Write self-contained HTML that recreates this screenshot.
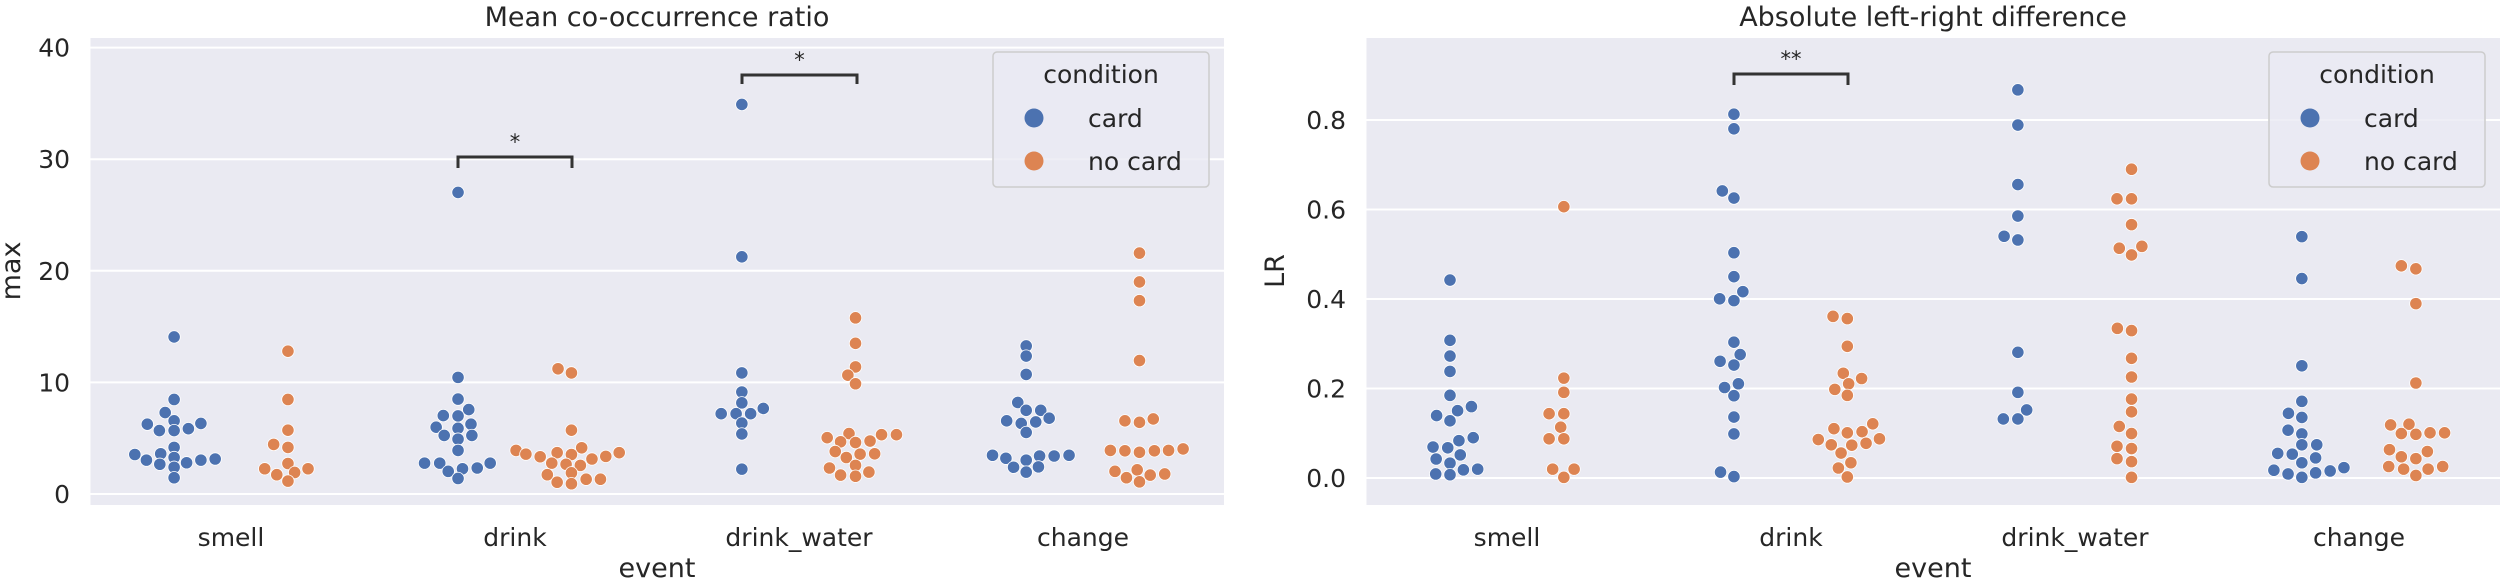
<!DOCTYPE html>
<html><head><meta charset="utf-8"><style>
html,body{margin:0;padding:0;background:#fff;}
svg{display:block;font-family:"DejaVu Sans","Liberation Sans",sans-serif;}
</style></head><body>
<svg id="s" width="2500" height="587" viewBox="0 0 2500 587" xmlns="http://www.w3.org/2000/svg">
<rect x="90.5" y="38" width="1133.5" height="467" fill="#eaeaf2"/>
<rect x="1366.5" y="38" width="1133.5" height="467" fill="#eaeaf2"/>
<g id="grid" stroke="#fff" stroke-width="2"></g>
<g id="pts"></g>
<g fill="#262626" font-size="26">
<text x="657" y="26" text-anchor="middle" font-size="27">Mean co-occurrence ratio</text>
<text x="1933" y="26" text-anchor="middle" font-size="27">Absolute left-right difference</text>
<text x="657" y="577" text-anchor="middle" font-size="27">event</text>
<text x="1933" y="577" text-anchor="middle" font-size="27">event</text>
<text transform="translate(20,271) rotate(-90)" text-anchor="middle" font-size="27">max</text>
<text transform="translate(1284,271) rotate(-90)" text-anchor="middle" font-size="27">LR</text>
</g>
<g id="lab" fill="#262626" font-size="25"></g>
</svg>
<script>
const NS="http://www.w3.org/2000/svg";
function el(p,t,a,txt){const e=document.createElementNS(NS,t);for(const k in a)e.setAttribute(k,a[k]);if(txt!==undefined)e.textContent=txt;p.appendChild(e);return e;}
const grid=document.getElementById('grid'),pts=document.getElementById('pts'),lab=document.getElementById('lab');
// left y
for(let v=0;v<=40;v+=10){const y=494-11.16*v;el(grid,'line',{x1:90.5,x2:1224,y1:y,y2:y});el(lab,'text',{x:70,y:y+9,'text-anchor':'end'},String(v));}
for(let i=0;i<=4;i++){const v=i*0.2;const y=478-447.5*v;el(grid,'line',{x1:1366.5,x2:2500,y1:y,y2:y});el(lab,'text',{x:1346,y:y+9,'text-anchor':'end'},v.toFixed(1));}
const cats=["smell","drink","drink_water","change"];
cats.forEach((c,i)=>{el(lab,'text',{x:231+284*i,y:546,'text-anchor':'middle'},c);el(lab,'text',{x:1507+284*i,y:546,'text-anchor':'middle'},c);});
const B="#4c72b0",O="#dd8452";
function add(ox,fx,arr,col){for(const [zx,zy] of arr){el(pts,'circle',{cx:ox+zx/fx,cy:zy/2.671,r:6.2,fill:col,stroke:'#fff','stroke-width':0.8});}}
const f1=2.24,f3=2.613;
add(0,f1,[[390,900],[390,1067],[370,1102],[390,1124],[330,1133],[357,1150],[390,1150],[422,1145],[450,1131],[390,1195],[302,1214],[360,1212],[328,1229],[390,1222],[418,1236],[450,1229],[482,1226],[358,1240],[390,1248],[390,1276]],B);
add(0,f1,[[645,938],[645,1067],[645,1149],[613,1187],[645,1195],[645,1238],[593,1252],[620,1268],[660,1262],[690,1252],[645,1285]],O);
add(0,f1,[[1026,514],[1026,1008],[1026,1066],[1050,1094],[993,1110],[1026,1111],[1055,1133],[977,1141],[1026,1144],[995,1163],[1057,1163],[1026,1173],[1026,1203],[951,1237],[985,1237],[1098,1237],[1036,1252],[1069,1250],[1004,1259],[1026,1278]],B);
add(0,f1,[[1250,985],[1280,996],[1280,1149],[1303,1196],[1156,1203],[1178,1213],[1210,1220],[1248,1209],[1280,1214],[1326,1226],[1357,1219],[1387,1209],[1236,1237],[1268,1240],[1300,1243],[1226,1268],[1280,1263],[1248,1288],[1280,1292],[1313,1280],[1345,1280]],O);
add(650,f3,[[240,279],[240,686],[240,996],[240,1047],[240,1076],[296,1091],[186,1105],[225,1105],[263,1105],[240,1130],[240,1159],[240,1253]],B);
add(650,f3,[[537,849],[537,917],[537,980],[517,1002],[537,1025],[520,1158],[605,1161],[644,1161],[463,1169],[498,1180],[537,1182],[575,1178],[484,1206],[549,1213],[587,1212],[513,1222],[537,1243],[469,1250],[572,1261],[498,1269],[537,1272]],O);
add(650,f3,[[983,924],[983,951],[983,1000],[961,1075],[983,1096],[1021,1096],[932,1124],[970,1131],[1008,1127],[1043,1117],[983,1155],[895,1216],[930,1224],[1018,1218],[1056,1218],[1095,1216],[983,1229],[950,1248],[1015,1247],[983,1261]],B);
add(650,f3,[[1279,676],[1279,753],[1279,803],[1279,963],[1241,1124],[1279,1128],[1315,1119],[1203,1203],[1241,1204],[1279,1208],[1318,1204],[1355,1203],[1393,1199],[1215,1259],[1273,1255],[1245,1276],[1307,1269],[1345,1266],[1279,1287]],O);
add(1200,f1,[[560,748],[560,909],[560,951],[560,992],[560,1056],[608,1086],[577,1097],[530,1110],[560,1124],[612,1169],[580,1177],[522,1194],[555,1196],[583,1215],[529,1226],[560,1237],[590,1255],[622,1253],[528,1266],[560,1268]],B);
add(1200,f1,[[815,552],[815,1010],[815,1048],[782,1105],[815,1105],[808,1141],[782,1172],[815,1172],[790,1253],[838,1253],[815,1275]],O);
add(1200,f1,[[1196,305],[1196,344],[1170,510],[1196,529],[1196,675],[1196,739],[1216,779],[1164,798],[1196,803],[1196,914],[1210,947],[1165,965],[1196,975],[1206,1025],[1175,1035],[1196,1057],[1196,1114],[1196,1159],[1166,1261],[1196,1273]],B);
add(1200,f1,[[1418,845],[1450,851],[1450,925],[1441,997],[1482,1011],[1453,1025],[1422,1040],[1450,1056],[1420,1145],[1450,1156],[1483,1153],[1507,1132],[1385,1174],[1522,1172],[1414,1188],[1460,1189],[1492,1184],[1436,1210],[1458,1236],[1430,1250],[1450,1274]],O);
add(1900,f3,[[308,240],[308,334],[308,493],[308,577],[272,631],[308,641],[308,941],[308,1048],[331,1095],[270,1119],[308,1119]],B);
add(1900,f3,[[605,452],[567,531],[605,531],[605,600],[573,663],[632,658],[605,681],[568,877],[605,883],[605,957],[605,1007],[605,1066],[605,1100],[573,1139],[605,1158],[567,1192],[605,1198],[567,1225],[605,1233],[605,1275]],O);
add(1900,f3,[[1050,632],[1050,744],[1050,977],[1050,1072],[1015,1104],[1050,1115],[1014,1149],[1050,1159],[1050,1188],[1089,1188],[987,1211],[1025,1213],[1086,1223],[1050,1236],[977,1256],[1014,1266],[1050,1275],[1086,1263],[1124,1258],[1160,1249]],B);
add(1900,f3,[[1310,710],[1348,718],[1348,811],[1348,1023],[1282,1135],[1330,1133],[1310,1158],[1348,1160],[1385,1156],[1423,1156],[1279,1201],[1378,1206],[1310,1220],[1348,1225],[1277,1246],[1316,1253],[1380,1253],[1418,1246],[1348,1270]],O);
// brackets
function br(x1,x2,y,y2,txt){el(pts,'polyline',{points:`${x1},${y2} ${x1},${y} ${x2},${y} ${x2},${y2}`,fill:'none',stroke:'#333','stroke-width':3});el(pts,'text',{x:(x1+x2)/2,y:y-8,'text-anchor':'middle','font-size':21,fill:'#262626'},txt);}
br(458,572,157,168,'*');
br(742,857,75,84,'*');
br(1734,1848,74,85,'**');
// legends
function leg(x,y){el(pts,'rect',{x:x,y:y,width:216,height:135,rx:4,fill:'#eaeaf2',stroke:'#cccccc','stroke-width':1.5,'fill-opacity':0.8});
el(pts,'text',{x:x+108,y:y+31,'text-anchor':'middle','font-size':25,fill:'#262626'},'condition');
el(pts,'circle',{cx:x+41,cy:y+66,r:9.5,fill:B});el(pts,'circle',{cx:x+41,cy:y+109,r:9.5,fill:O});
el(pts,'text',{x:x+95,y:y+75,'font-size':25,fill:'#262626'},'card');el(pts,'text',{x:x+95,y:y+118,'font-size':25,fill:'#262626'},'no card');}
leg(993,52);leg(2269,52);
</script>
</body></html>
